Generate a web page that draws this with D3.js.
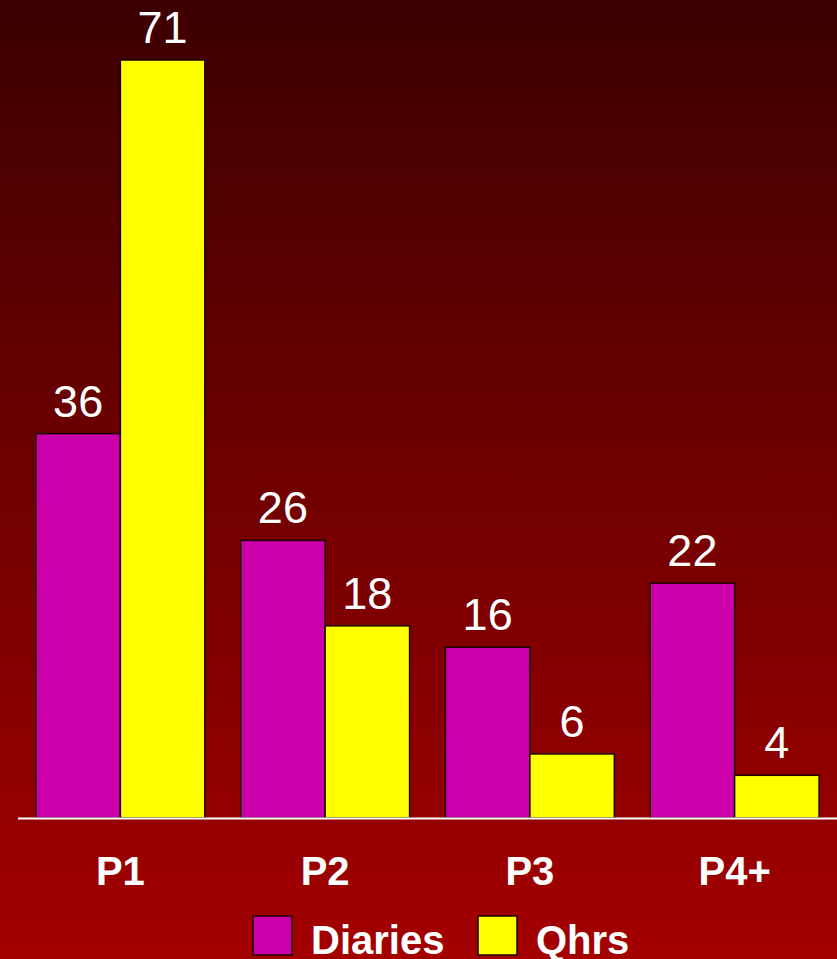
<html>
  <head>
    <script src="https://d3js.org/d3.v7.min.js"></script>
    <style>
      body{ margin: 0; background: #000; }
    </style>
  </head>
  <body>
    <svg width="837" height="959"></svg>
    <script>
    var categories = ["P1", "P2", "P3", "P4+"];
    var series = ["Diaries", "Qhrs"];
    var diaries = [36, 26, 16, 22];
    var qhrs = [71, 18, 6, 4];
    var colors = ["#cc00aa", "#ffff00"];

    var svg = d3.select("svg"),
        width = +svg.attr("width"),
        height = +svg.attr("height");

    var defs = svg.append("defs");
    var grad = defs.append("linearGradient").attr("id", "bg")
      .attr("x1", 0).attr("y1", 0).attr("x2", 0).attr("y2", 1);
    grad.append("stop").attr("offset", "0%").attr("stop-color", "#3c0000");
    grad.append("stop").attr("offset", "100%").attr("stop-color", "#a40000");
    svg.append("rect").attr("width", width).attr("height", height).attr("fill", "url(#bg)");

    var baseY = 818;
    var x0 = d3.scaleBand().domain(categories).range([18, 837]).paddingInner(0.175).paddingOuter(0.0875);
    var x1 = d3.scaleBand().domain(series).range([0, x0.bandwidth()]);
    var y = d3.scaleLinear().domain([0, 71]).range([baseY, 60]);

    var rows = categories.map(function(c, i){
      return {cat: c, vals: [diaries[i], qhrs[i]]};
    });

    var groups = svg.selectAll("g.grp").data(rows).enter().append("g")
      .attr("class", "grp")
      .attr("transform", function(d){ return "translate(" + x0(d.cat) + ",0)"; });

    groups.selectAll("rect").data(function(d){ return d.vals.map(function(v, j){ return {s: series[j], v: v, j: j}; }); })
      .enter().append("rect")
        .attr("x", function(d){ return x1(d.s); })
        .attr("y", function(d){ return y(d.v); })
        .attr("width", x1.bandwidth())
        .attr("height", function(d){ return baseY - y(d.v); })
        .attr("fill", function(d){ return colors[d.j]; })
        .attr("stroke", "#1a0000")
        .attr("stroke-width", 1.5);

    groups.selectAll("text.val").data(function(d){ return d.vals.map(function(v, j){ return {s: series[j], v: v}; }); })
      .enter().append("text")
        .attr("class", "val")
        .attr("x", function(d){ return x1(d.s) + x1.bandwidth() / 2; })
        .attr("y", function(d){ return y(d.v) - 17; })
        .attr("text-anchor", "middle")
        .attr("fill", "#fff")
        .style("font-family", "Liberation Sans, Arial, sans-serif")
        .style("font-size", "45px")
        .text(function(d){ return d.v; });

    // baseline
    svg.append("line").attr("x1", 18).attr("x2", 837).attr("y1", baseY + 0.5).attr("y2", baseY + 0.5)
      .attr("stroke", "#fff").attr("stroke-width", 2);

    // category axis
    var xAxis = d3.axisBottom(x0).tickSize(0).tickPadding(0);
    var ax = svg.append("g").attr("transform", "translate(0," + baseY + ")").call(xAxis);
    ax.select(".domain").remove();
    ax.selectAll("text")
      .attr("dy", null)
      .attr("y", 67)
      .attr("fill", "#fff")
      .style("font-family", "Liberation Sans, Arial, sans-serif")
      .style("font-weight", "bold")
      .style("font-size", "40px");

    // legend
    var legX = [253, 478];
    var leg = svg.selectAll("g.leg").data(series).enter().append("g")
      .attr("class", "leg")
      .attr("transform", function(d, i){ return "translate(" + legX[i] + ",916)"; });
    leg.append("rect").attr("width", 39).attr("height", 39)
      .attr("fill", function(d, i){ return colors[i]; })
      .attr("stroke", "#1a0000").attr("stroke-width", 1.5);
    leg.append("text").attr("x", 58).attr("y", 38)
      .attr("fill", "#fff")
      .style("font-family", "Liberation Sans, Arial, sans-serif")
      .style("font-weight", "bold")
      .style("font-size", "40px")
      .text(function(d){ return d; });
    </script>
  </body>
</html>
